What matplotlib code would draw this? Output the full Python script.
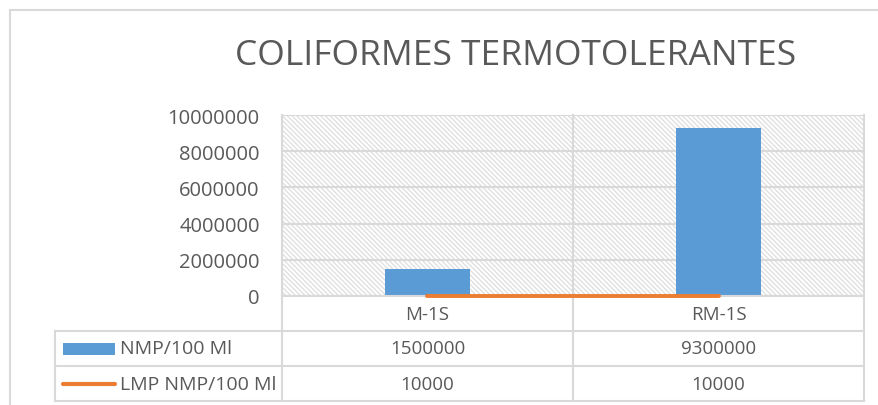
import matplotlib
matplotlib.use("Agg")
import matplotlib.pyplot as plt
from matplotlib.lines import Line2D
from matplotlib.patches import Rectangle

# data
categories = ["M-1S", "RM-1S"]
nmp_values = [1500000, 9300000]
lmp_values = [10000, 10000]
series_names = ["NMP/100 Ml", "LMP NMP/100 Ml"]
title = "COLIFORMES TERMOTOLERANTES"
yticks = [0, 2000000, 4000000, 6000000, 8000000, 10000000]

BLUE = "#5B9BD5"
ORANGE = "#ED7D31"
GRID = "#D9D9D9"
TXT = "#595959"

plt.rcParams["font.family"] = ["Open Sans", "DejaVu Sans"]
plt.rcParams["hatch.color"] = "#E0E0E0"
plt.rcParams["hatch.linewidth"] = 1.0

W, H = 879, 406
fig = plt.figure(figsize=(W / 100, H / 100), dpi=100)

# plot area in pixels
L, R, T, B = 282, 864, 116, 297
ax = fig.add_axes([L / W, 1 - B / H, (R - L) / W, (B - T) / H])

# hatched background
ax.patch.set_facecolor("white")
ax.add_patch(Rectangle((0, 0), 1, 1, transform=ax.transAxes, facecolor="white",
                       edgecolor="#E0E0E0", hatch="\\" * 7, lw=0, zorder=0))

x = list(range(len(categories)))
ax.bar(x, nmp_values, width=0.29, color=BLUE, zorder=3)
ax.plot(x, lmp_values, color=ORANGE, lw=2.8, solid_capstyle="round", zorder=7,
        clip_on=False)

ax.set_xlim(-0.5, len(categories) - 0.5)
ax.set_ylim(0, 10000000)
ax.set_yticks(yticks)
ax.set_yticklabels([str(v) for v in yticks])
ax.tick_params(axis="y", length=0, pad=16, labelsize=14.5, labelcolor=TXT)
ax.set_xticks([])
for s in ax.spines.values():
    s.set_visible(False)
for v in yticks:
    ax.axhline(v, color=GRID, lw=1.5, zorder=2)

# data table below the plot area
row_h = 35 / (B - T)
tab_left = (55 - L) / (R - L)
lk = dict(transform=ax.transAxes, clip_on=False, color=GRID, lw=1.5, zorder=5)

# vertical borders: plot edges and category separators
for i in range(len(categories) + 1):
    xa = i / len(categories)
    ax.add_line(Line2D([xa, xa], [1, -3 * row_h], **lk))
ax.add_line(Line2D([tab_left, tab_left], [-row_h, -3 * row_h], **lk))
ax.add_line(Line2D([0, 1], [0, 0], **lk))
for r in range(1, 4):
    ax.add_line(Line2D([tab_left, 1], [-r * row_h, -r * row_h], **lk))

tk = dict(ha="center", va="center", fontsize=13.5, color=TXT, clip_on=False)
for i, c in enumerate(categories):
    xa = (i + 0.5) / len(categories)
    ax.text(xa, -0.5 * row_h, c, transform=ax.transAxes, **tk)
    ax.text(xa, -1.5 * row_h, str(nmp_values[i]), transform=ax.transAxes, **tk)
    ax.text(xa, -2.5 * row_h, str(lmp_values[i]), transform=ax.transAxes, **tk)

# legend keys in the table
px = 1 / (R - L)
ax.add_patch(Rectangle(((63 - L) * px, -1.5 * row_h - 6 / (B - T)), 52 * px, 12 / (B - T),
                       transform=ax.transAxes, facecolor=BLUE, lw=0, clip_on=False))
ax.add_line(Line2D([(63 - L) * px, (115 - L) * px], [-2.5 * row_h, -2.5 * row_h],
                   transform=ax.transAxes, color=ORANGE, lw=3, solid_capstyle="round",
                   clip_on=False))
for r, name in enumerate(series_names):
    ax.text((120 - L) * px, -(1.5 + r) * row_h, name, transform=ax.transAxes,
            ha="left", va="center", fontsize=14, color=TXT, clip_on=False)

# title
fig.text(516 / W, 1 - 56 / H, title, ha="center", va="center", fontsize=25.5, color=TXT)

# chart frame
fig.add_artist(Line2D([9.5 / W, 9.5 / W], [0, 1 - 10.5 / H], color=GRID, lw=1.5))
fig.add_artist(Line2D([9.5 / W, 1], [1 - 10.5 / H, 1 - 10.5 / H], color=GRID, lw=1.5))

fig.savefig("out.png", dpi=100)
